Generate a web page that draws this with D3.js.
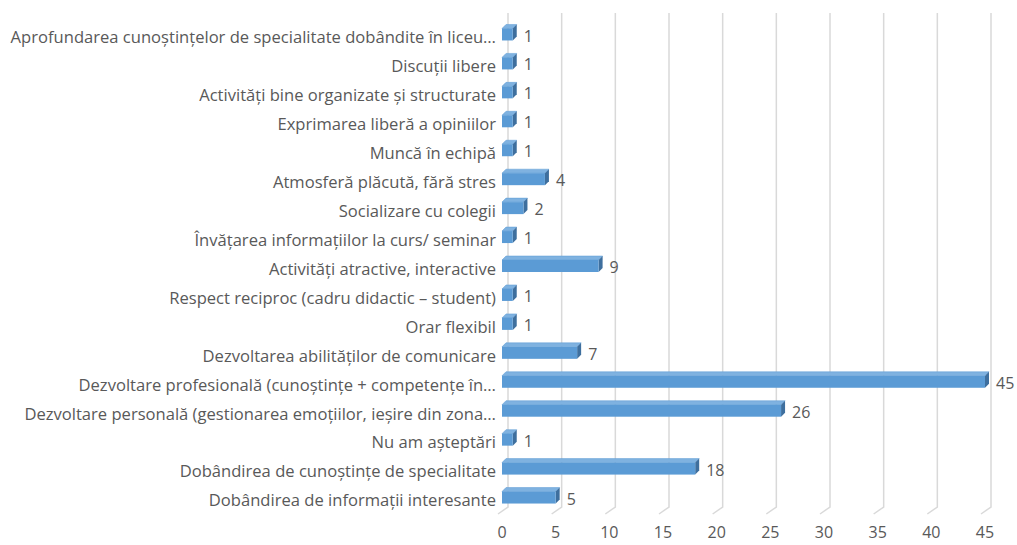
<!DOCTYPE html>
<head>
<meta charset="utf-8">
<style>
  body { margin: 0; background: #fff; }
  text { font-family: "Open Sans", Lato, sans-serif; }
</style>
</head>
<body>
<svg width="1017" height="545"></svg>
<script src="https://d3js.org/d3.v7.min.js"></script>
<script>
// categories, top to bottom as shown
var categories = [
  "Aprofundarea cunoștințelor de specialitate dobândite în liceu…",
  "Discuții libere",
  "Activități bine organizate și structurate",
  "Exprimarea liberă a opiniilor",
  "Muncă în echipă",
  "Atmosferă plăcută, fără stres",
  "Socializare cu colegii",
  "Învățarea informațiilor la curs/ seminar",
  "Activități atractive, interactive",
  "Respect reciproc (cadru didactic – student)",
  "Orar flexibil",
  "Dezvoltarea abilităților de comunicare",
  "Dezvoltare profesională (cunoștințe + competențe în…",
  "Dezvoltare personală (gestionarea emoțiilor, ieșire din zona…",
  "Nu am așteptări",
  "Dobândirea de cunoștințe de specialitate",
  "Dobândirea de informații interesante"
];
var values = [1, 1, 1, 1, 1, 4, 2, 1, 9, 1, 1, 7, 45, 26, 1, 18, 5];
var ticks = [0, 5, 10, 15, 20, 25, 30, 35, 40, 45];

var svg = d3.select("svg");

var x = d3.scaleLinear().domain([0, 45]).range([502, 985]);
var y = d3.scaleBand().domain(categories).range([20, 512]);

var depth = 4, barH = 12;
var wallDx = 6, gridTop = 13, gridBottom = 507, floorDx = -10, floorDy = 7;

// gridlines with floor
svg.append("g")
  .selectAll("path")
  .data(ticks)
  .enter().append("path")
    .attr("fill", "none")
    .attr("stroke", "#d9d9d9")
    .attr("stroke-width", 1.5)
    .attr("d", function(d) {
      var xb = x(d) + wallDx;
      return "M" + xb + "," + gridTop + "L" + xb + "," + gridBottom + "L" + (xb + floorDx) + "," + (gridBottom + floorDy);
    });

// tick labels
svg.append("g")
  .selectAll("text")
  .data(ticks)
  .enter().append("text")
    .attr("x", function(d) { return x(d); })
    .attr("y", 538)
    .attr("text-anchor", "middle")
    .attr("font-size", 16)
    .attr("fill", "#595959")
    .text(function(d) { return d; });

// bars
var bar = svg.append("g")
  .selectAll("g")
  .data(categories)
  .enter().append("g");

function yTop(d) { return y(d) + y.bandwidth() / 2 - barH / 2; }

bar.append("path")  // top face
    .attr("fill", "#7fb2e0")
    .attr("stroke", "#5b9bd5")
    .attr("stroke-width", 0.5)
    .attr("d", function(d, i) {
      var x0 = x(0), x1 = x(values[i]), t = yTop(d);
      return "M" + x0 + "," + t + "L" + (x0 + depth) + "," + (t - depth) + "L" + (x1 + depth) + "," + (t - depth) + "L" + x1 + "," + t + "Z";
    });

bar.append("path")  // side face
    .attr("fill", "#3e6f9e")
    .attr("d", function(d, i) {
      var x1 = x(values[i]), t = yTop(d);
      return "M" + x1 + "," + t + "L" + (x1 + depth) + "," + (t - depth) + "L" + (x1 + depth) + "," + (t + barH - depth) + "L" + x1 + "," + (t + barH) + "Z";
    });

bar.append("rect")  // front face
    .attr("x", x(0))
    .attr("y", yTop)
    .attr("width", function(d, i) { return x(values[i]) - x(0); })
    .attr("height", barH)
    .attr("fill", "#5b9bd5");

// value labels
bar.append("text")
    .attr("x", function(d, i) { return x(values[i]) + depth + 7; })
    .attr("y", function(d) { return y(d) + y.bandwidth() / 2 + 1; })
    .attr("dy", "0.38em")
    .attr("font-size", 16)
    .attr("fill", "#595959")
    .text(function(d, i) { return values[i]; });

// category labels, sized so the longest one spans the same width as the original
var labels = svg.append("g")
  .selectAll("text")
  .data(categories)
  .enter().append("text")
    .attr("x", 496)
    .attr("y", function(d) { return y(d) + y.bandwidth() / 2 + 3; })
    .attr("dy", "0.35em")
    .attr("text-anchor", "end")
    .attr("font-size", 15)
    .attr("fill", "#595959")
    .text(function(d) { return d; });

var w = labels.nodes()[0].getComputedTextLength();
labels.attr("font-size", 15 * 486 / w);
</script>
</body>
